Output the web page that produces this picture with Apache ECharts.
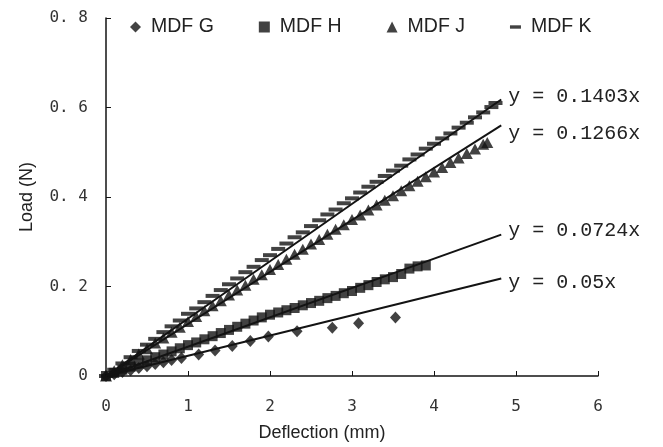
<!DOCTYPE html>
<html>
<head>
<meta charset="utf-8">
<script src="https://cdn.jsdelivr.net/npm/echarts@6/dist/echarts.min.js"></script>
<style>html,body{margin:0;padding:0;background:#fff;}#c{width:663px;height:447px;}</style>
</head>
<body>
<div id="c"></div>
<script>
// ---- data ----
const seriesNames = ['MDF G', 'MDF H', 'MDF J', 'MDF K'];

const gX = [0, 0.1, 0.2, 0.3, 0.4, 0.5, 0.6, 0.7, 0.8, 0.92, 1.13, 1.33, 1.54, 1.76, 1.98, 2.33, 2.76, 3.08, 3.53];
const gY = [0, 0.004, 0.009, 0.013, 0.018, 0.022, 0.027, 0.031, 0.036, 0.040, 0.048, 0.057, 0.067, 0.078, 0.088, 0.100, 0.108, 0.118, 0.131];

const hX = [0, 0.1, 0.2, 0.3, 0.4, 0.5, 0.6, 0.7, 0.8, 0.9, 1.0, 1.1, 1.2, 1.3, 1.4, 1.5, 1.6, 1.7, 1.8, 1.9,
            2.0, 2.1, 2.2, 2.3, 2.4, 2.5, 2.6, 2.7, 2.8, 2.9, 3.0, 3.1, 3.2, 3.3, 3.4, 3.5, 3.6, 3.7, 3.8, 3.9];
const hY = [0, 0.007, 0.014, 0.021, 0.028, 0.035, 0.042, 0.048, 0.055, 0.062, 0.069, 0.075, 0.082, 0.089, 0.096, 0.103, 0.110, 0.117, 0.124, 0.131,
            0.137, 0.142, 0.147, 0.152, 0.158, 0.163, 0.168, 0.174, 0.179, 0.185, 0.190, 0.197, 0.203, 0.210, 0.216, 0.221, 0.228, 0.240, 0.245, 0.247];

const jX = [0, 0.1, 0.2, 0.3, 0.4, 0.5, 0.6, 0.7, 0.8, 0.9, 1.0, 1.1, 1.2, 1.3, 1.4, 1.5, 1.6, 1.7, 1.8, 1.9,
            2.0, 2.1, 2.2, 2.3, 2.4, 2.5, 2.6, 2.7, 2.8, 2.9, 3.0, 3.1, 3.2, 3.3, 3.4, 3.5, 3.6, 3.7, 3.8, 3.9,
            4.0, 4.1, 4.2, 4.3, 4.4, 4.5, 4.6, 4.65];
const jY = [0, 0.012, 0.025, 0.037, 0.049, 0.061, 0.074, 0.085, 0.098, 0.109, 0.122, 0.133, 0.146, 0.157, 0.168, 0.181, 0.192, 0.203, 0.216, 0.226,
            0.238, 0.249, 0.261, 0.272, 0.283, 0.295, 0.305, 0.317, 0.328, 0.338, 0.350, 0.360, 0.371, 0.382, 0.393, 0.403, 0.414, 0.425, 0.435, 0.445,
            0.456, 0.466, 0.477, 0.487, 0.497, 0.507, 0.518, 0.522];

const kX = [0, 0.1, 0.2, 0.3, 0.4, 0.5, 0.6, 0.7, 0.8, 0.9, 1.0, 1.1, 1.2, 1.3, 1.4, 1.5, 1.6, 1.7, 1.8, 1.9,
            2.0, 2.1, 2.2, 2.3, 2.4, 2.5, 2.6, 2.7, 2.8, 2.9, 3.0, 3.1, 3.2, 3.3, 3.4, 3.5, 3.6, 3.7, 3.8, 3.9,
            4.0, 4.1, 4.2, 4.3, 4.4, 4.5, 4.6, 4.7, 4.75];
const kY = [0, 0.014, 0.028, 0.042, 0.056, 0.070, 0.083, 0.098, 0.111, 0.124, 0.139, 0.151, 0.165, 0.179, 0.192, 0.205, 0.218, 0.232, 0.244, 0.259,
            0.270, 0.284, 0.296, 0.310, 0.321, 0.335, 0.348, 0.361, 0.372, 0.386, 0.397, 0.410, 0.423, 0.434, 0.447, 0.459, 0.470, 0.484, 0.495, 0.508,
            0.519, 0.531, 0.542, 0.555, 0.566, 0.578, 0.589, 0.601, 0.610];

// trend lines as drawn: end points and their equation labels
const trendEndX = [4.82, 4.82, 4.82, 4.82];
const trendEndY = [0.218, 0.316, 0.560, 0.618];
const trendLabels = ['y = 0.05x', 'y = 0.0724x', 'y = 0.1266x', 'y = 0.1403x'];

const xTicks = [0, 1, 2, 3, 4, 5, 6];
const yTicks = [0, 0.2, 0.4, 0.6, 0.8];

// ---- build ----
const ink = '#131313';
const zip = (a, b) => a.map((v, i) => [v, b[i]]);
const pts = [zip(gX, gY), zip(hX, hY), zip(jX, jY), zip(kX, kY)];
const symbols = ['diamond', 'rect', 'triangle', 'rect'];
const sizes = [[11, 12], [10, 10], [12, 11], [14, 4]];
const legendIcons = ['diamond', 'rect', 'triangle', 'path://M0,0h13v4h-13z'];
const labelOffsets = [[0, 4], [0, -4], [0, 8], [0, -3]];

const series = [];
seriesNames.forEach((n, i) => {
  series.push({
    name: n, type: 'scatter', data: pts[i], symbol: symbols[i], symbolSize: sizes[i],
    itemStyle: { color: ink }, z: 2
  });
});
seriesNames.forEach((n, i) => {
  series.push({
    name: n + ' trend', type: 'line', data: [[0, 0], [trendEndX[i], trendEndY[i]]],
    symbol: 'none', silent: true, z: 3,
    lineStyle: { color: ink, width: 2 },
    endLabel: {
      show: true, formatter: trendLabels[i], distance: 7, offset: labelOffsets[i],
      fontFamily: 'Liberation Mono', fontSize: 20, color: '#222'
    }
  });
});

const chart = echarts.init(document.getElementById('c'), null, { renderer: 'canvas' });
chart.setOption({
  animation: false,
  backgroundColor: '#fff',
  grid: { left: 106, right: 65, top: 18, bottom: 70 },
  legend: {
    data: seriesNames.map((n, i) => ({ name: n, icon: legendIcons[i] })),
    left: 125, top: 12, itemWidth: 11, itemHeight: 11, itemGap: 45,
    textStyle: { fontFamily: 'Liberation Sans', fontSize: 19.5, color: '#222', padding: [0, 0, 0, 5] },
    itemStyle: { color: ink }
  },
  xAxis: {
    type: 'value', min: xTicks[0], max: xTicks[xTicks.length - 1], interval: 1,
    name: 'Deflection (mm)', nameLocation: 'middle', nameGap: 48,
    nameTextStyle: { fontFamily: 'Liberation Sans', fontSize: 18, color: '#222', padding: [0, 60, 0, 0] },
    axisLine: { lineStyle: { color: ink, width: 1.5 } },
    axisTick: { inside: true, length: 5, lineStyle: { color: ink } },
    axisLabel: { margin: 23, fontFamily: 'DejaVu Sans Mono', fontSize: 16, color: '#333' },
    splitLine: { show: false }
  },
  yAxis: {
    type: 'value', min: yTicks[0], max: yTicks[yTicks.length - 1], interval: 0.2,
    name: 'Load (N)', nameLocation: 'middle', nameGap: 70,
    nameTextStyle: { fontFamily: 'Liberation Sans', fontSize: 18, color: '#222' },
    axisLine: { show: true, lineStyle: { color: ink, width: 1.5 } },
    axisTick: { show: true, inside: true, length: 5, lineStyle: { color: ink } },
    axisLabel: {
      margin: 18, fontFamily: 'DejaVu Sans Mono', fontSize: 16, color: '#333',
      formatter: v => v === 0 ? '0' : v.toFixed(1).replace('.', '. ')
    },
    splitLine: { show: false }
  },
  series: series
});
</script>
</body>
</html>
